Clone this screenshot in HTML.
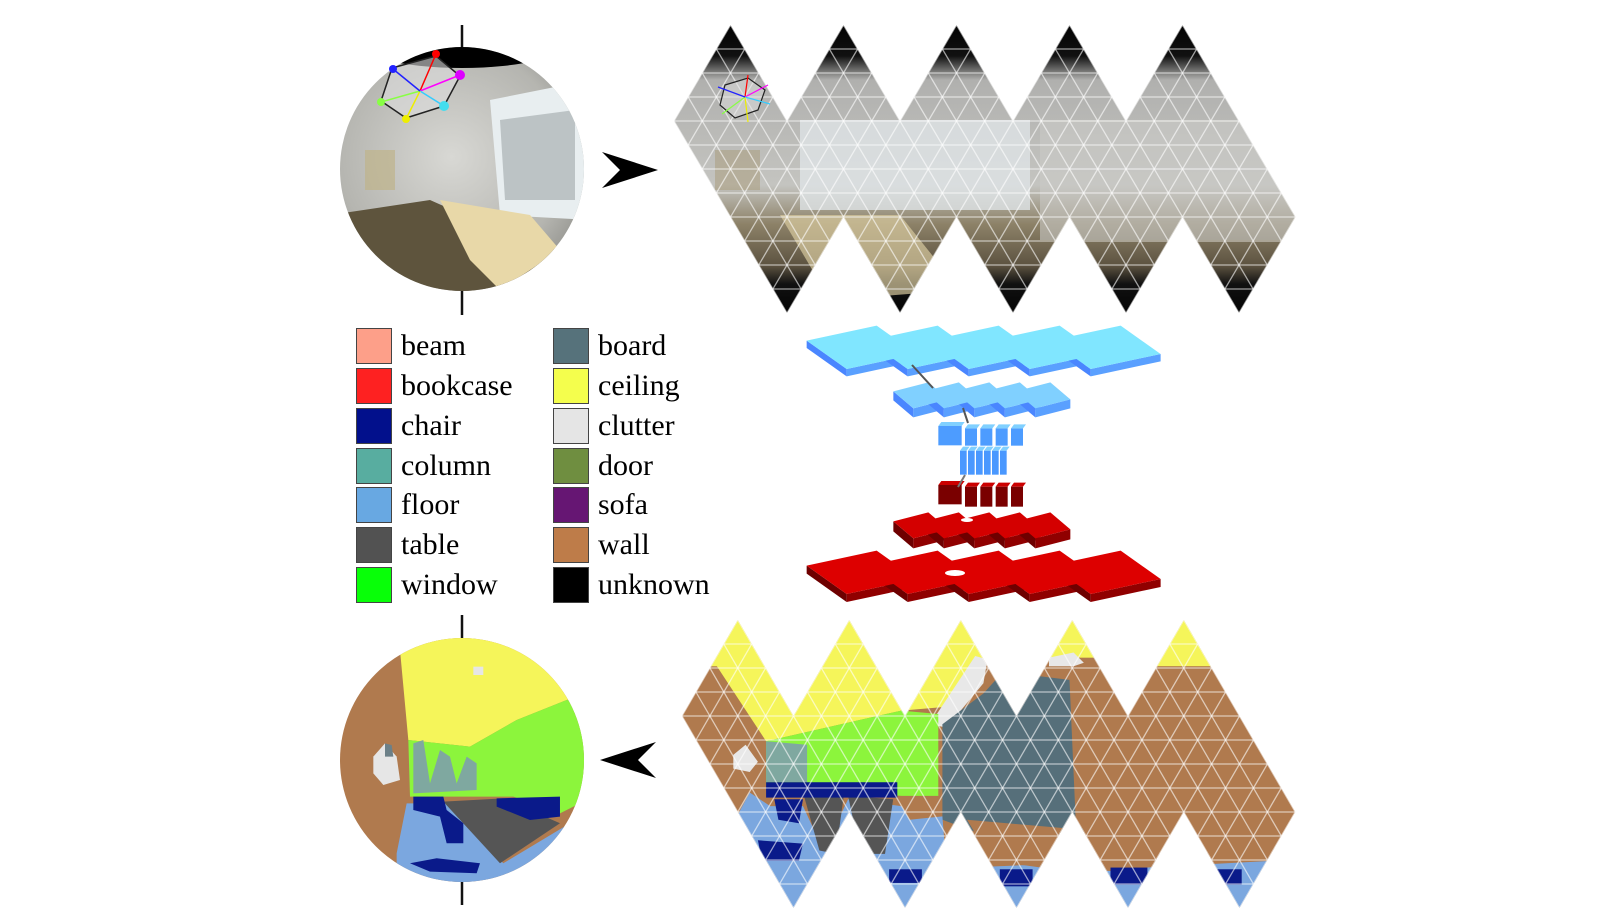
<!DOCTYPE html>
<html><head><meta charset="utf-8"><style>
html,body{margin:0;padding:0;background:#fff;overflow:hidden;width:1624px;height:920px;}
body{position:relative;font-family:"Liberation Serif",serif;}
.lg{position:absolute;display:flex;align-items:center;height:40px;font-size:30px;color:#000;}
.lg i{display:block;width:36px;height:36px;border:1.5px solid #444;margin-right:9px;box-sizing:border-box;}
svg{position:absolute;left:0;top:0;}
</style></head><body>
<svg id="s" width="1624" height="920" viewBox="0 0 1624 920" xmlns="http://www.w3.org/2000/svg">
<defs>
 <clipPath id="c1"><circle cx="462" cy="169" r="122"/></clipPath>
 <clipPath id="c2"><circle cx="462" cy="760" r="122"/></clipPath>
 <clipPath id="n1"><polygon id="n1p" points=""/></clipPath>
 <clipPath id="n2"><polygon id="n2p" points=""/></clipPath>
 <radialGradient id="sg" cx="0.45" cy="0.45" r="0.6">
  <stop offset="0" stop-color="#d8d8d4"/><stop offset="0.7" stop-color="#b5b5b0"/><stop offset="1" stop-color="#8a8a85"/>
 </radialGradient>
 <linearGradient id="ng" x1="0" y1="0" x2="0" y2="1">
  <stop offset="0" stop-color="#000"/><stop offset="0.12" stop-color="#111"/><stop offset="0.2" stop-color="#b0b0ae"/>
  <stop offset="0.55" stop-color="#c4c4c0"/><stop offset="0.68" stop-color="#8d8268"/><stop offset="0.82" stop-color="#5c5240"/>
  <stop offset="0.88" stop-color="#111"/><stop offset="1" stop-color="#000"/>
 </linearGradient>
</defs>

<line x1="462" y1="25" x2="462" y2="315" stroke="#111" stroke-width="2.5"/>
<g clip-path="url(#c1)">
 <rect x="330" y="40" width="270" height="260" fill="url(#sg)"/>
 <ellipse cx="462" cy="40" rx="110" ry="28" fill="#000"/>
 <polygon points="490,100 590,80 590,220 500,215" fill="#e8eef0"/>
 <polygon points="500,120 575,110 575,200 505,200" fill="#9fa6a8" opacity="0.6"/>
 <polygon points="330,215 430,200 520,240 600,260 600,300 330,300" fill="#5e543d"/>
 <polygon points="440,200 530,215 560,250 500,290 470,260" fill="#e8d8a8"/>
 <rect x="365" y="150" width="30" height="40" fill="#bfb38a" opacity="0.7"/>
</g>
<g stroke-width="1.5" fill="none">
 <polygon points="392,68 436,56 460,76 444,106 406,118 381,101" fill="#ddd" fill-opacity="0.6" stroke="#222"/>
 <line x1="420" y1="91" x2="436" y2="54" stroke="#f00"/><line x1="420" y1="91" x2="460" y2="75" stroke="#f0f"/>
 <line x1="420" y1="91" x2="444" y2="106" stroke="#3cf"/><line x1="420" y1="91" x2="406" y2="119" stroke="#ee0"/>
 <line x1="420" y1="91" x2="381" y2="102" stroke="#8f4"/><line x1="420" y1="91" x2="393" y2="69" stroke="#22f"/>
</g>
<circle cx="436" cy="54" r="4" fill="#f00"/><circle cx="460" cy="75" r="5" fill="#d0f"/><circle cx="444" cy="106" r="5" fill="#4de"/>
<circle cx="406" cy="119" r="4" fill="#ee0"/><circle cx="381" cy="102" r="4" fill="#8f4"/><circle cx="393" cy="69" r="4" fill="#22f"/>

<polygon points="602,152 658,170 602,188 620,170" fill="#000"/>
<polygon points="656,742 600,760 656,778 638,760" fill="#000"/>

<g clip-path="url(#n1)">
 <rect x="670" y="20" width="640" height="300" fill="url(#ng)"/>
 <rect x="800" y="120" width="230" height="90" fill="#dfe4e6" opacity="0.8"/>
 <polygon points="780,215 900,215 960,290 830,300" fill="#d8caa0" opacity="0.7"/>
 <rect x="715" y="150" width="45" height="40" fill="#a89a78" opacity="0.5"/>
 <rect x="1040" y="120" width="260" height="120" fill="#c9c9c6" opacity="0.6"/>
 <g id="g1"></g>
</g>
<g stroke-width="1.2" fill="none">
 <polygon points="725,85 748,78 765,90 758,110 735,118 720,105" fill="#ddd" fill-opacity="0.5" stroke="#222"/>
 <line x1="745" y1="97" x2="748" y2="75" stroke="#f00"/><line x1="745" y1="97" x2="768" y2="85" stroke="#f0f"/>
 <line x1="745" y1="97" x2="770" y2="104" stroke="#3cf"/><line x1="745" y1="97" x2="748" y2="122" stroke="#ee0"/>
 <line x1="745" y1="97" x2="722" y2="114" stroke="#8f4"/><line x1="745" y1="97" x2="718" y2="87" stroke="#22f"/>
</g>

<g id="net"></g>

<line x1="462" y1="615" x2="462" y2="905" stroke="#111" stroke-width="2.5"/>
<g clip-path="url(#c2)"><g transform="translate(330,610) scale(0.3333)">
 <rect x="0" y="0" width="800" height="920" fill="#b07a4e"/>
 <polygon points="210,120 235,390 420,410 560,330 710,270 800,250 800,0 200,0" fill="#f5f55a"/>
 <polygon points="235,390 420,410 560,330 710,270 790,280 790,560 690,610 550,560 240,560" fill="#8cf53c"/>
 <polygon points="250,400 280,390 300,520 330,420 360,440 380,520 410,440 440,460 440,540 250,550" fill="#7fa8a0"/>
 <polygon points="230,580 350,580 520,760 720,640 800,610 800,900 200,900 200,730" fill="#7ba7df"/>
 <polygon points="340,575 520,565 690,640 510,760" fill="#555"/>
 <polygon points="250,560 340,560 350,600 400,640 400,700 350,700 330,620 250,600" fill="#0a1a8a"/>
 <polygon points="500,565 690,560 690,620 600,630 500,590" fill="#0a1a8a"/>
 <polygon points="240,760 320,745 450,760 440,790 300,785" fill="#0a1a8a"/>
 <polygon points="130,440 165,400 200,440 210,510 160,525 130,490" fill="#e6e6e6"/>
 <polygon points="165,400 185,405 190,440 165,440" fill="#6c8088"/>
 <rect x="430" y="170" width="30" height="25" fill="#e6e6e6"/>
</g></g>

<g clip-path="url(#n2)">
 <g transform="translate(680,615) scale(0.41,0.3413)">
  <rect x="0" y="0" width="1520" height="900" fill="#b07a4e"/>
  <polygon points="0,0 740,0 740,130 640,270 540,280 210,370 90,150 0,150" fill="#f5f55a"/>
  <rect x="880" y="0" width="140" height="125" fill="#f5f55a"/>
  <rect x="1140" y="0" width="170" height="150" fill="#f5f55a"/>
  <polygon points="900,125 960,110 985,140 960,150 900,150" fill="#e8e8e8"/>
  <polygon points="720,120 750,130 740,200 650,330 610,320" fill="#e8e8e8"/>
  <polygon points="640,320 740,230 770,190 880,180 950,190 965,600 990,640 900,650 730,640 640,600" fill="#566f7a"/>
  <polygon points="210,370 540,280 630,290 630,530 540,530 210,500" fill="#8cf53c"/>
  <polygon points="210,370 310,380 310,490 210,490" fill="#7fa8a0"/>
  <polygon points="130,410 160,380 190,430 170,460 130,450" fill="#e8e8e8"/>
  <polygon points="170,520 220,560 300,560 350,690 410,540 540,560 560,600 640,590 660,900 0,900" fill="#7ba7df"/>
  <polygon points="300,520 400,525 380,700 340,690" fill="#555"/>
  <polygon points="410,530 520,540 500,700 440,700" fill="#555"/>
  <rect x="210" y="490" width="320" height="45" fill="#0a1a8a"/>
  <polygon points="230,540 300,540 290,610 240,600" fill="#0a1a8a"/>
  <polygon points="190,660 300,670 290,720 200,720" fill="#0a1a8a"/>
  <polygon points="700,740 1500,700 1500,900 700,900" fill="#7ba7df"/>
  <polygon points="700,600 990,630 1050,700 1250,700 1450,680 1450,720 1140,740 1050,750 880,740 760,720 720,640" fill="#b07a4e"/>
  <rect x="780" y="745" width="80" height="50" fill="#0a1a8a"/>
  <rect x="1050" y="740" width="90" height="50" fill="#0a1a8a"/>
  <rect x="1310" y="745" width="60" height="45" fill="#0a1a8a"/>
  <rect x="510" y="745" width="80" height="40" fill="#0a1a8a"/>
 </g>
 <g id="g2"></g>
</g>
</svg>

<div class="lg" style="left:356px;top:326px"><i style="background:#fd9f89"></i>beam</div>
<div class="lg" style="left:356px;top:366px"><i style="background:#fe2121"></i>bookcase</div>
<div class="lg" style="left:356px;top:406px"><i style="background:#02108c"></i>chair</div>
<div class="lg" style="left:356px;top:446px"><i style="background:#58ada0"></i>column</div>
<div class="lg" style="left:356px;top:485px"><i style="background:#68a8e2"></i>floor</div>
<div class="lg" style="left:356px;top:525px"><i style="background:#525252"></i>table</div>
<div class="lg" style="left:356px;top:565px"><i style="background:#08ff08"></i>window</div>
<div class="lg" style="left:553px;top:326px"><i style="background:#56727b"></i>board</div>
<div class="lg" style="left:553px;top:366px"><i style="background:#f4fe4d"></i>ceiling</div>
<div class="lg" style="left:553px;top:406px"><i style="background:#e5e5e5"></i>clutter</div>
<div class="lg" style="left:553px;top:446px"><i style="background:#6f8e40"></i>door</div>
<div class="lg" style="left:553px;top:485px"><i style="background:#661673"></i>sofa</div>
<div class="lg" style="left:553px;top:525px"><i style="background:#be7c49"></i>wall</div>
<div class="lg" style="left:553px;top:565px"><i style="background:#000"></i>unknown</div>

<script>
(function(){
var NS="http://www.w3.org/2000/svg";
function el(t,a,p){var e=document.createElementNS(NS,t);for(var k in a)e.setAttribute(k,a[k]);p.appendChild(e);return e;}
function outline(x0,y0,w,h){var p=[[x0,y0+h]];for(var k=0;k<5;k++){p.push([x0+w/2+k*w,y0]);p.push([x0+(k+1)*w,y0+h]);}
 p.push([x0+5.5*w,y0+2*h]);for(var k=4;k>=0;k--){p.push([x0+w+k*w,y0+3*h]);p.push([x0+w/2+k*w,y0+2*h]);}
 return p.map(function(q){return q[0].toFixed(1)+","+q[1].toFixed(1)}).join(" ");}
function grid(g,x0,y0,w,h){var at={stroke:"#fff","stroke-opacity":"0.6","stroke-width":"1.3"};
 function mk(o){var r={};for(var k in at)r[k]=at[k];for(var k in o)r[k]=o[k];return r;}
 for(var j=0;j<=12;j++){var y=y0+j*h/4;el("line",mk({x1:x0-10,x2:x0+6*w+10,y1:y,y2:y}),g);}
 for(var m=-30;m<=40;m++){var x=x0+w/2+m*w/4;
  el("line",mk({x1:x,y1:y0,x2:x+w*2,y2:y0+4*h}),g);
  el("line",mk({x1:x,y1:y0,x2:x-w*2,y2:y0+4*h}),g);}}
document.getElementById("n1p").setAttribute("points",outline(674,25,113,96));
document.getElementById("n2p").setAttribute("points",outline(682,620,111.5,96));
grid(document.getElementById("g1"),674,25,113,96);
grid(document.getElementById("g2"),682,620,111.5,96);

var net=document.getElementById("net");
function P(a){return a.map(function(p){return p[0]+","+p[1]}).join(" ");}
/* slab in zoom coords: 5 parallelogram blocks */
function slab(tx,ty,sx,sy,th,ctop,cfront,cside){var g=el("g",{transform:"translate("+tx+","+ty+") scale("+sx+","+sy+")"},net);
 var blocks=[];
 for(var k=0;k<5;k++){var dx=183*k;var L=[20+dx,62],T=[230+dx,17],e=[120,85];
  var B=[L[0]+e[0],L[1]+e[1]],R=[T[0]+e[0],T[1]+e[1]];blocks.push([L,T,R,B]);}
 blocks.forEach(function(b){var L=b[0],T=b[1],R=b[2],B=b[3];
  el("polygon",{points:P([L,B,[B[0],B[1]+th],[L[0],L[1]+th]]),fill:cfront},g);
  el("polygon",{points:P([B,R,[R[0],R[1]+th],[B[0],B[1]+th]]),fill:cside},g);});
 blocks.forEach(function(b){el("polygon",{points:P(b),fill:ctop},g);});}
slab(800,320,0.3333,0.3333,22,"#80e6ff","#4a86ff","#5aa0ff");
slab(800+280/3-10/3,320+185/3-8/3,0.5/3,0.6/3,45,"#80d0ff","#4a86ff","#5aa0ff");
slab(800+280/3-10/3,320+575/3-8/3,0.5/3,0.6/3,50,"#d40000","#6e0000","#900000");
slab(800,320+690/3-15/3,0.3333,0.3333,24,"#dd0000","#6e0000","#900000");
function boxes(x,y,wid,hgt,gap,n,ctop,cfront){for(var i=0;i<n;i++){var bx=800+(x+i*gap)/3;var by=320+y/3;
 el("rect",{x:bx,y:by,width:wid/3,height:hgt/3,fill:cfront},net);
 el("polygon",{points:P([[bx,by],[bx+3,by-4],[bx+wid/3+3,by-4],[bx+wid/3,by]]),fill:ctop},net);}}
boxes(415,318,70,58,0,1,"#80d0ff","#4d9cff");
boxes(495,325,36,52,46,4,"#80d0ff","#4d9cff");
boxes(480,392,20,72,24,6,"#80d0ff","#4a98ff");
boxes(415,495,70,58,0,1,"#cc0000","#7a0000");
boxes(495,500,36,60,46,4,"#cc0000","#7a0000");
el("line",{x1:912,y1:365,x2:933,y2:388,stroke:"#555","stroke-width":"2"},net);
el("line",{x1:963,y1:408,x2:968,y2:423,stroke:"#555","stroke-width":"2"},net);
el("line",{x1:965,y1:475,x2:958,y2:487,stroke:"#777","stroke-width":"2"},net);
el("ellipse",{cx:967,cy:520,rx:6,ry:2,fill:"#fff"},net);
el("ellipse",{cx:955,cy:573,rx:10,ry:3,fill:"#fff"},net);
})();
</script>
</body></html>
